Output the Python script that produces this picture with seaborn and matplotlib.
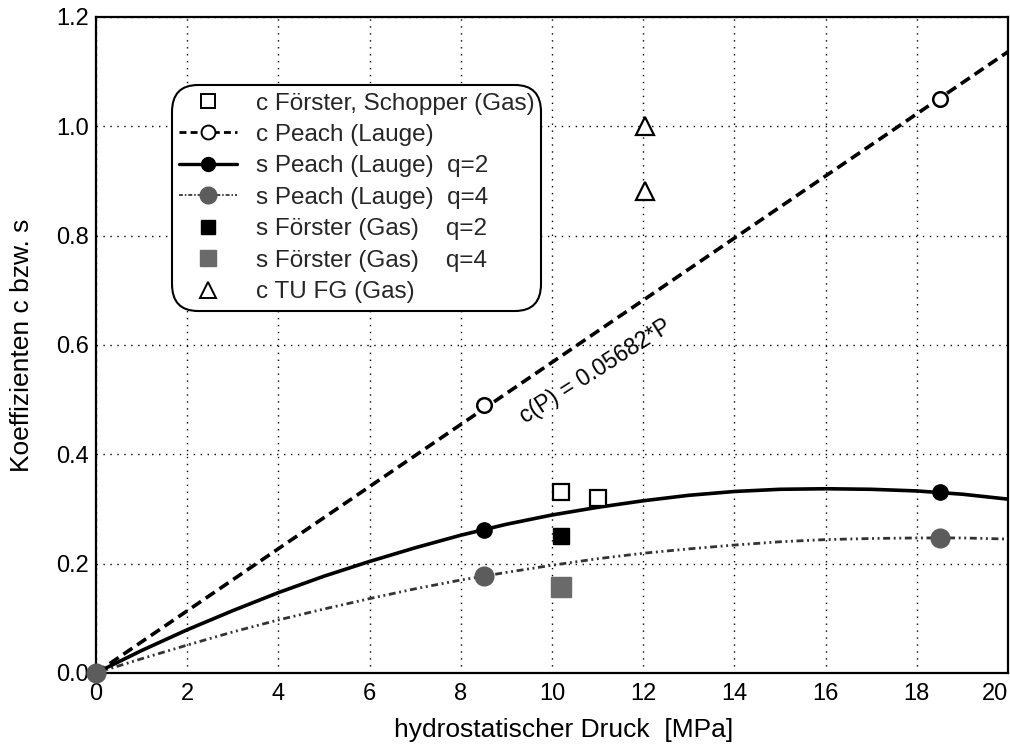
import numpy as np
import pandas as pd
import matplotlib
matplotlib.use("Agg")
import matplotlib.pyplot as plt
from matplotlib.lines import Line2D
from matplotlib.ticker import MultipleLocator
import seaborn as sns

# ---- data -------------------------------------------------------------
# c Peach (Lauge): measured points and linear law c(P) = 0.05682*P
peach_c_p = [0.0, 8.5, 18.5]
peach_c_val = [0.0, 0.49, 1.05]
c_slope = 0.05682
c_line_p = [0.0, 20.0]

curve_p = list(range(0, 21))
s_q2_curve = [0.000, 0.041, 0.079, 0.114, 0.147, 0.177, 0.204, 0.229, 0.252,
              0.272, 0.289, 0.303, 0.315, 0.325, 0.332, 0.336, 0.337, 0.336,
              0.333, 0.327, 0.318]
s_q4_curve = [0.000, 0.026, 0.051, 0.075, 0.097, 0.117, 0.136, 0.154, 0.170,
              0.184, 0.197, 0.209, 0.219, 0.227, 0.234, 0.240, 0.244, 0.246,
              0.247, 0.247, 0.245]
peach_s_p = [0.0, 8.5, 18.5]
peach_s_q2 = [0.0, 0.262, 0.331]
peach_s_q4 = [0.0, 0.177, 0.247]

# Förster, Schopper (Gas)
foerster_c_p = [10.2, 11.0]
foerster_c_val = [0.331, 0.320]
foerster_s_p = [10.2]
foerster_s_q2 = [0.251]
foerster_s_q4 = [0.157]

# TU FG (Gas)
tufg_p = [12.05, 12.05]
tufg_c = [1.0, 0.882]

x_ticks = [0, 2, 4, 6, 8, 10, 12, 14, 16, 18, 20]
y_ticks = [0.0, 0.2, 0.4, 0.6, 0.8, 1.0, 1.2]

# ---- style ------------------------------------------------------------
sns.set_theme(style="white")
plt.rcParams["font.family"] = ["Liberation Sans", "DejaVu Sans"]
plt.rcParams["axes.unicode_minus"] = False

GREY = "#5c5c5c"
GREY_SQ = "#6a6a6a"
TICK_FS = 17
LABEL_FS = 19
LEG_FS = 17.5

fig = plt.figure(figsize=(10.1, 7.48), dpi=100)
ax = fig.add_axes([0.095, 0.1003, 0.903, 0.877])

# linear law
c_line = pd.DataFrame({"P": c_line_p, "c": [c_slope * p for p in c_line_p]})
sns.lineplot(data=c_line, x="P", y="c", ax=ax, color="black", lw=2.6,
             linestyle=(0, (3.0, 1.6)), zorder=3)

# fitted curves
curves = pd.DataFrame({"P": curve_p, "q2": s_q2_curve, "q4": s_q4_curve})
sns.lineplot(data=curves, x="P", y="q4", ax=ax, color="#333333", lw=2.0,
             linestyle=(0, (2.5, 1.3, 0.7, 1.3, 0.7, 1.3)), zorder=3)
sns.lineplot(data=curves, x="P", y="q2", ax=ax, color="black", lw=2.6,
             zorder=3)

# markers
ax.plot(peach_s_p[1:], peach_s_q4[1:], "o", ms=13.5, color=GREY, mec=GREY,
        zorder=5)
ax.plot(peach_s_p[1:], peach_s_q2[1:], "o", ms=11, color="black", zorder=5)
ax.plot(peach_c_p[1:], peach_c_val[1:], "o", ms=10.5, mfc="white",
        mec="black", mew=1.8, zorder=5)
ax.plot(foerster_c_p, foerster_c_val, "s", ms=11, mfc="white", mec="black",
        mew=1.6, zorder=5)
ax.plot(foerster_s_p, foerster_s_q2, "s", ms=11.5, color="black", zorder=5)
ax.plot(foerster_s_p, foerster_s_q4, "s", ms=14, color=GREY_SQ, zorder=5)
ax.plot(tufg_p, tufg_c, "^", ms=13, mfc="white", mec="black", mew=1.6,
        zorder=5)
# origin point shared by all Peach series
ax.plot([peach_s_p[0]], [peach_s_q4[0]], "o", ms=13.5, color=GREY,
        clip_on=False, zorder=10)

# equation label along the line
ax.text(10.95, 0.552, "c(P) = 0.05682*P", rotation=32.5,
        rotation_mode="anchor", ha="center", va="center", fontsize=16.5,
        color="black", zorder=6)

# axes
ax.set_xlim(0, 20)
ax.set_ylim(0, 1.2)
ax.set_xticks(x_ticks)
ax.set_yticks(y_ticks)
ax.set_xticklabels([str(t) for t in x_ticks])
ax.set_yticklabels([f"{t:.1f}" for t in y_ticks])
ax.get_xticklabels()[-1].set_horizontalalignment("right")
ax.xaxis.set_minor_locator(MultipleLocator(1))
ax.yaxis.set_minor_locator(MultipleLocator(0.1))
ax.tick_params(which="major", direction="in", length=4, width=1.2,
               labelsize=TICK_FS, colors="black", top=False, right=False)
ax.tick_params(axis="x", which="major", pad=7)
ax.tick_params(axis="y", which="major", pad=5)
ax.tick_params(which="minor", direction="in", length=5, width=1.0,
               top=False, right=False)
ax.grid(True, which="major", color="black", linestyle=(0, (1, 4)), lw=1.0)
for sp in ax.spines.values():
    sp.set_visible(True)
    sp.set_color("black")
    sp.set_linewidth(1.6)
ax.set_xlabel("hydrostatischer Druck  [MPa]", fontsize=LABEL_FS,
              color="black")
ax.set_ylabel("Koeffizienten c bzw. s", fontsize=LABEL_FS, color="black")
ax.xaxis.set_label_coords(0.513, -0.069)
ax.yaxis.set_label_coords(-0.081, 0.5)
ax.yaxis.label.set_va("center")

# legend
handles = [
    Line2D([], [], ls="none", marker="s", ms=10, mfc="white", mec="black", mew=1.4),
    Line2D([], [], color="black", lw=2.0, ls=(0, (2.5, 1.5)), marker="o", ms=10,
           mfc="white", mec="black", mew=1.4),
    Line2D([], [], color="black", lw=2.4, marker="o", ms=10, mfc="black"),
    Line2D([], [], color="#444444", lw=1.4, ls=(0, (2, 1, 0.8, 1)), marker="o",
           ms=12, mfc=GREY, mec=GREY),
    Line2D([], [], ls="none", marker="s", ms=10.5, color="black"),
    Line2D([], [], ls="none", marker="s", ms=12, color=GREY_SQ),
    Line2D([], [], ls="none", marker="^", ms=11, mfc="white", mec="black", mew=1.4),
]
labels = [
    "c Förster, Schopper (Gas)",
    "c Peach (Lauge)",
    "s Peach (Lauge)  q=2",
    "s Peach (Lauge)  q=4",
    "s Förster (Gas)    q=2",
    "s Förster (Gas)    q=4",
    "c TU FG (Gas)",
]
leg = ax.legend(handles, labels, loc="upper left",
                bbox_to_anchor=(0.083, 0.896), borderaxespad=0,
                fontsize=LEG_FS, handlelength=2.4, handletextpad=0.75,
                labelspacing=0.39, borderpad=0.3, frameon=True,
                fancybox=True, framealpha=1.0)
frame = leg.get_frame()
frame.set_edgecolor("black")
frame.set_linewidth(1.5)
frame.set_boxstyle("round", pad=0.0, rounding_size=1.1)

fig.savefig("out.png", dpi=100)
